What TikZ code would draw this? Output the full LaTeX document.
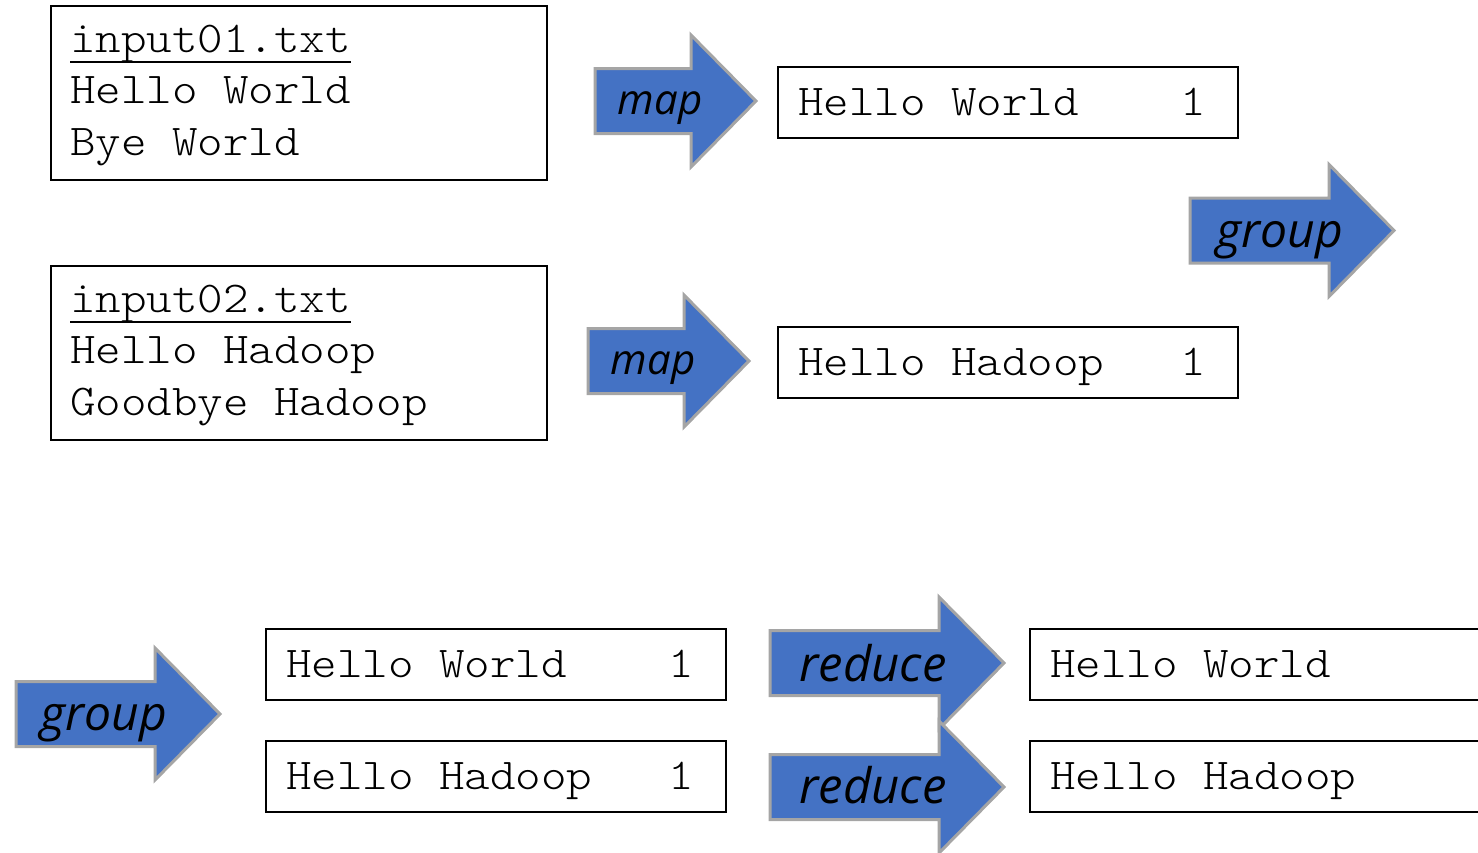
\documentclass[tikz,border=0pt]{standalone}
\usepackage{fontspec}
\setmonofont{lmmonolt10-regular.otf}[FakeStretch=1.105]
\newfontfamily\lblfont{Open Sans}
\usetikzlibrary{calc}
\definecolor{arrowblue}{HTML}{4472C4}
\definecolor{arrowgray}{HTML}{A5A5A5}
\begin{document}
\begin{tikzpicture}[x=1pt,y=-1pt,
  mono/.style={font=\fontsize{44}{51.5}\selectfont\ttfamily},
  filebox/.style={draw=black,line width=2,minimum width=496,minimum height=174,anchor=north west,inner sep=0},
  fileline/.style={mono,anchor=base west,inner sep=0},
  pairbox/.style={draw=black,line width=2,minimum width=460,minimum height=71,anchor=north west,
    mono,inner xsep=20,inner ysep=0,text height=25.5,text depth=0},
  blockarrow/.style={fill=arrowblue,draw=arrowgray,line width=3,line join=miter},
  arrowlabel/.style={font=\lblfont\itshape\fontsize{#1}{#1}\selectfont,anchor=base,inner sep=0,text=black},
]
\useasboundingbox (0,0) rectangle (1478,852);
\clip (0,0) rectangle (1478,852);

% block arrow: tail x, centre y, shaft length
\newcommand{\blockarrow}[3]{%
  \draw[blockarrow] (#1,#2-32.5) -- ++(#3,0) -- ++(0,-33.5) -- (#1+#3+65,#2)
    -- (#1+#3,#2+66) -- ++(0,-33.5) -- (#1,#2+32.5) -- cycle;}
% fixed-width line inside a key/value box
\newcommand{\pairtext}[1]{\makebox[420pt][l]{#1}}

% input files
\node[filebox] (f1) at (50,5) {};
\node[fileline] (f1a) at ($(f1.north west)+(20,47)$) {input01.txt};
\node[fileline] (f1b) at ($(f1.north west)+(20,98.5)$) {Hello World};
\node[fileline] (f1c) at ($(f1.north west)+(20,150)$) {Bye World};
\draw[line width=1.6] ($(f1a.base west)+(0,10)$) -- ($(f1a.base east)+(0,10)$);

\node[filebox] (f2) at (50,265) {};
\node[fileline] (f2a) at ($(f2.north west)+(20,47)$) {input02.txt};
\node[fileline] (f2b) at ($(f2.north west)+(20,98.5)$) {Hello Hadoop};
\node[fileline] (f2c) at ($(f2.north west)+(20,150)$) {Goodbye Hadoop};
\draw[line width=1.6] ($(f2a.base west)+(0,10)$) -- ($(f2a.base east)+(0,10)$);

% map outputs
\node[pairbox] (m1) at (777,66) {\pairtext{Hello World\ \ \ \ 1}};
\node[pairbox] (m2) at (777,326) {\pairtext{Hello Hadoop\ \ \ 1}};

% grouped pairs
\node[pairbox] (g1) at (265,628) {\pairtext{Hello World\ \ \ \ 1}};
\node[pairbox] (g2) at (265,740) {\pairtext{Hello Hadoop\ \ \ 1}};

% reduce outputs
\node[pairbox] (r1) at (1029,628) {\pairtext{Hello World}};
\node[pairbox] (r2) at (1029,740) {\pairtext{Hello Hadoop}};

% arrows
\blockarrow{595}{101}{96}
\node[arrowlabel=42] (lmap1) at (660,114) {map};
\blockarrow{588}{361}{96}
\node[arrowlabel=42] (lmap2) at (653,374) {map};
\blockarrow{1190}{230.5}{139}
\node[arrowlabel=48] (lgroup1) at (1280,247) {group};
\blockarrow{16}{714}{139}
\node[arrowlabel=48] (lgroup2) at (104,730) {group};
\blockarrow{770}{663}{169}
\node[arrowlabel=49] (lred1) at (873,681) {reduce};
\blockarrow{770}{787}{169}
\node[arrowlabel=49] (lred2) at (873,803) {reduce};
\end{tikzpicture}
\end{document}
